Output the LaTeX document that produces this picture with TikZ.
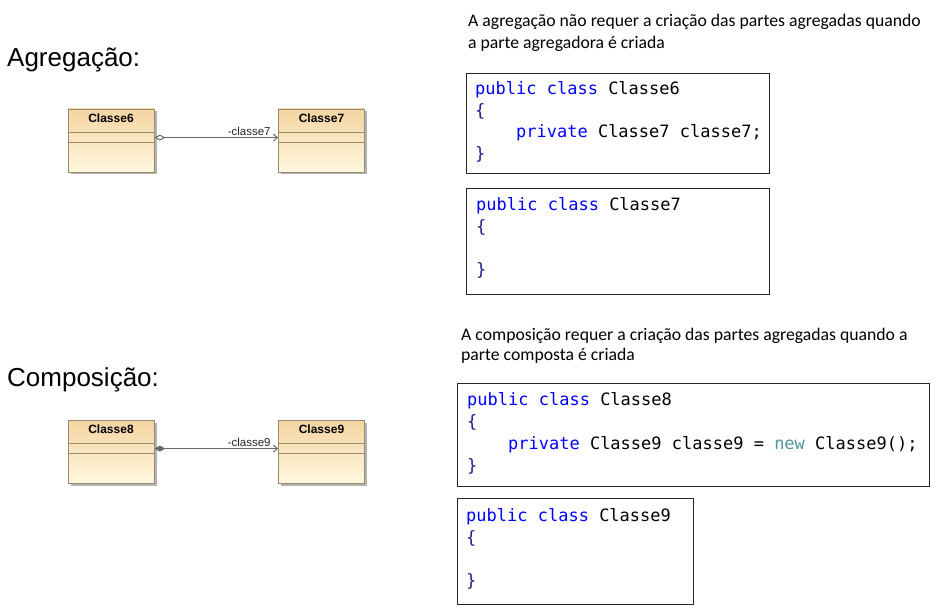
\documentclass[tikz,border=0pt]{standalone}
\usepackage{fontspec}
\setmainfont{Liberation Sans}
\newfontfamily\descfont{Carlito}
\newfontfamily\codefont{DejaVu Sans Mono}
\usetikzlibrary{arrows.meta,shadows}
\definecolor{classtop}{HTML}{F4D4A2}
\definecolor{classbot}{HTML}{FFF8DE}
\definecolor{classborder}{HTML}{9A8A70}
\definecolor{connline}{HTML}{6A6A6A}
\definecolor{kw}{HTML}{0000FF}
\definecolor{br}{HTML}{1C1C8C}
\definecolor{newkw}{HTML}{4E9AA0}
\tikzset{
  umlclass/.style={draw=classborder, line width=0.8bp, top color=classtop, bottom color=classbot,
    minimum width=86bp, minimum height=63bp, inner sep=0pt,
    drop shadow={shadow xshift=2.5bp, shadow yshift=-2.5bp, fill=black, opacity=0.3}},
  classname/.style={font=\bfseries\fontsize{12bp}{14bp}\selectfont, inner sep=0pt, anchor=center},
  divider/.style={draw=classborder, line width=0.8bp},
  aggr/.style={draw=connline, line width=1bp, {Diamond[fill=white, length=11bp, width=6bp]}-{Straight Barb[length=4bp, width=7bp]}},
  compo/.style={draw=connline, line width=1bp, {Diamond[fill=connline, length=11bp, width=6bp]}-{Straight Barb[length=4bp, width=7bp]}},
  rolelabel/.style={font=\fontsize{11.5bp}{13bp}\selectfont, inner sep=1bp, anchor=south east, text=black!85},
  heading/.style={font=\fontsize{26bp}{30bp}\selectfont, inner sep=0pt, anchor=base west},
  desc/.style={font=\descfont\fontsize{17.7bp}{21bp}\selectfont, inner sep=0pt, anchor=base west},
  codebox/.style={draw=black!85, line width=1bp, inner sep=0pt, anchor=north west},
  codetext/.style={font=\codefont\fontsize{17bp}{21.8bp}\selectfont, align=left, inner sep=0pt, anchor=north west}
}
\newcommand{\kwd}[1]{\textcolor{kw}{#1}}
\newcommand{\brc}[1]{\textcolor{br}{#1}}
\begin{document}
\begin{tikzpicture}[x=1bp,y=-1bp]
\useasboundingbox (0,0) rectangle (942,613);
\fill[white] (0,0) rectangle (942,613);

% headings
\node[heading] (h1) at (7,67) {Agregação:};
\node[heading] (h2) at (7,386.7) {Composição:};

% descriptions
\node[desc] (d1a) at (468,27) {A agregação não requer a criação das partes agregadas quando};
\node[desc] (d1b) at (468,49) {a parte agregadora é criada};
\node[desc] (d2a) at (461,340) {A composição requer a criação das partes agregadas quando a};
\node[desc] (d2b) at (461,360) {parte composta é criada};

% UML classes (aggregation)
\node[umlclass] (c6) at (111,140.5) {};
\node[umlclass] (c7) at (321.5,140.5) {};
\node[classname] (c6n) at ([yshift=-10bp]c6.north) {Classe6};
\node[classname] (c7n) at ([yshift=-10bp]c7.north) {Classe7};
\foreach \c in {c6,c7}{
  \draw[divider] ([yshift=-24bp]\c.north west) -- ([yshift=-24bp]\c.north east);
  \draw[divider] ([yshift=-34bp]\c.north west) -- ([yshift=-34bp]\c.north east);
}
\draw[aggr] ([yshift=-29bp]c6.north east) -- ([yshift=-29bp]c7.north west)
  node[rolelabel, pos=1, xshift=-6bp] (r7) {-classe7};

% UML classes (composition)
\node[umlclass] (c8) at (111,451.5) {};
\node[umlclass] (c9) at (321.5,451.5) {};
\node[classname] (c8n) at ([yshift=-10bp]c8.north) {Classe8};
\node[classname] (c9n) at ([yshift=-10bp]c9.north) {Classe9};
\foreach \c in {c8,c9}{
  \draw[divider] ([yshift=-24bp]\c.north west) -- ([yshift=-24bp]\c.north east);
  \draw[divider] ([yshift=-34bp]\c.north west) -- ([yshift=-34bp]\c.north east);
}
\draw[compo] ([yshift=-29bp]c8.north east) -- ([yshift=-29bp]c9.north west)
  node[rolelabel, pos=1, xshift=-6bp] (r9) {-classe9};

% code boxes
\node[codebox, minimum width=303bp, minimum height=100bp] (b1) at (466,73) {};
\node[codetext] (t1) at ([xshift=9bp, yshift=-8bp]b1.north west)
  {\kwd{public class} Classe6\\ \brc{\{}\\ \phantom{xxxx}\kwd{private} Classe7 classe7;\\ \brc{\}}};

\node[codebox, minimum width=303bp, minimum height=106bp] (b2) at (466,188) {};
\node[codetext] (t2) at ([xshift=10bp, yshift=-9bp]b2.north west)
  {\kwd{public class} Classe7\\ \brc{\{}\\ \strut\\ \brc{\}}};

\node[codebox, minimum width=472bp, minimum height=103bp] (b3) at (457,383) {};
\node[codetext] (t3) at ([xshift=10bp, yshift=-9.5bp]b3.north west)
  {\kwd{public class} Classe8\\ \brc{\{}\\ \phantom{xxxx}\kwd{private} Classe9 classe9 = \textcolor{newkw}{new} Classe9();\\ \brc{\}}};

\node[codebox, minimum width=236bp, minimum height=106bp] (b4) at (457,498) {};
\node[codetext] (t4) at ([xshift=9bp, yshift=-10bp]b4.north west)
  {\kwd{public class} Classe9\\ \brc{\{}\\ \strut\\ \brc{\}}};
\end{tikzpicture}
\end{document}
